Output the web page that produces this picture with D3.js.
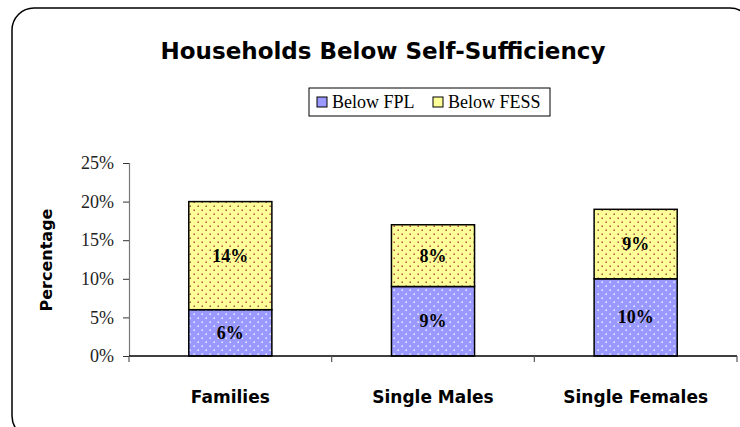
<!DOCTYPE html>
<html>
<head>
<meta charset="utf-8">
<script src="https://cdn.jsdelivr.net/npm/d3@7"></script>
<style>
  body { margin: 0; background: #fff; }
</style>
</head>
<body>
<div id="vis"></div>
<script>
// chart data
const categories = ["Families", "Single Males", "Single Females"];
const belowFPL = [6, 9, 10];
const belowFESS = [14, 8, 9];
const seriesNames = ["Below FPL", "Below FESS"];
const yTicks = [0, 5, 10, 15, 20, 25];

const svg = d3.select("#vis")
    .append("svg")
    .attr("width", 740)
    .attr("height", 427);

const comic = "'DejaVu Sans', sans-serif";
const serif = "'Liberation Serif', serif";

// dotted patterns for bar fills
const defs = svg.append("defs");
function dots(id, bg, dot) {
    const p = defs.append("pattern")
        .attr("id", id)
        .attr("patternUnits", "userSpaceOnUse")
        .attr("width", 8)
        .attr("height", 8);
    p.append("rect").attr("width", 8).attr("height", 8).attr("fill", bg);
    p.append("rect").attr("x", 1.5).attr("y", 1.5).attr("width", 1.4).attr("height", 1.4).attr("fill", dot);
    p.append("rect").attr("x", 5.5).attr("y", 5.5).attr("width", 1.4).attr("height", 1.4).attr("fill", dot);
}
dots("fplDots", "#9999ff", "#ffffff");
dots("fessDots", "#ffff99", "#993333");

// outer frame
svg.append("rect")
    .attr("x", 12)
    .attr("y", 8)
    .attr("width", 740)
    .attr("height", 430)
    .attr("rx", 22)
    .attr("ry", 22)
    .attr("fill", "none")
    .attr("stroke", "#000")
    .attr("stroke-width", 1.5);

svg.append("text")
    .attr("x", 383)
    .attr("y", 59)
    .attr("text-anchor", "middle")
    .style("font-family", comic)
    .style("font-weight", "bold")
    .style("font-size", "23px")
    .text("Households Below Self-Sufficiency");

const margin = { left: 129, right: 737, top: 163, bottom: 356 };

const x = d3.scaleBand()
    .domain(categories)
    .range([margin.left, margin.right])
    .paddingInner(0.59)
    .paddingOuter(0.295);

const y = d3.scaleLinear()
    .domain([0, 25])
    .range([margin.bottom, margin.top]);

const stackData = categories.map((c, i) => ({ cat: c, fpl: belowFPL[i], fess: belowFESS[i] }));
const stacked = d3.stack().keys(["fpl", "fess"])(stackData);
const fills = ["url(#fplDots)", "url(#fessDots)"];

// y axis
const yAxis = svg.append("g")
    .attr("transform", `translate(${margin.left},0)`)
    .call(d3.axisLeft(y).tickValues(yTicks).tickSize(6).tickPadding(9).tickFormat(d => d + "%"));
yAxis.select(".domain").attr("stroke", "#777").attr("stroke-width", 1.2);
yAxis.selectAll(".tick line").attr("stroke", "#333");
yAxis.selectAll("text")
    .style("font-family", serif)
    .style("font-size", "18px")
    .attr("fill", "#222");

svg.append("text")
    .attr("transform", "translate(52,260) rotate(-90)")
    .attr("text-anchor", "middle")
    .style("font-family", comic)
    .style("font-weight", "bold")
    .style("font-size", "16px")
    .text("Percentage");

// bars
svg.append("g").selectAll("g")
    .data(stacked)
    .join("g")
    .attr("fill", (d, i) => fills[i])
    .selectAll("rect")
    .data(d => d)
    .join("rect")
    .attr("x", d => x(d.data.cat))
    .attr("y", d => y(d[1]))
    .attr("width", x.bandwidth())
    .attr("height", d => y(d[0]) - y(d[1]))
    .attr("stroke", "#000")
    .attr("stroke-width", 1.5);

svg.append("g").selectAll("g")
    .data(stacked)
    .join("g")
    .selectAll("text")
    .data(d => d)
    .join("text")
    .attr("x", d => x(d.data.cat) + x.bandwidth() / 2)
    .attr("y", d => y((d[0] + d[1]) / 2) + 6)
    .attr("text-anchor", "middle")
    .style("font-family", serif)
    .style("font-weight", "bold")
    .style("font-size", "18px")
    .text(d => (d[1] - d[0]) + "%");

// x axis with ticks between categories
const step = x.step();
const bounds = d3.range(categories.length + 1).map(i => margin.left + i * step);
const xg = svg.append("g");
xg.append("line")
    .attr("x1", margin.left)
    .attr("x2", margin.right)
    .attr("y1", margin.bottom)
    .attr("y2", margin.bottom)
    .attr("stroke", "#000")
    .attr("stroke-width", 1.5);
xg.selectAll(".tk")
    .data(bounds)
    .join("line")
    .attr("x1", d => d)
    .attr("x2", d => d)
    .attr("y1", margin.bottom)
    .attr("y2", margin.bottom + 6)
    .attr("stroke", "#555")
    .attr("stroke-width", 1.2);
xg.selectAll("text")
    .data(categories)
    .join("text")
    .attr("x", d => x(d) + x.bandwidth() / 2)
    .attr("y", 403)
    .attr("text-anchor", "middle")
    .style("font-family", comic)
    .style("font-weight", "bold")
    .style("font-size", "17px")
    .text(d => d);

// legend
const lg = svg.append("g").attr("transform", "translate(309,88)");
lg.append("rect")
    .attr("width", 241)
    .attr("height", 28)
    .attr("fill", "#fff")
    .attr("stroke", "#000")
    .attr("stroke-width", 1);
const legendX = [8, 124];
seriesNames.forEach((name, i) => {
    lg.append("rect")
        .attr("x", legendX[i])
        .attr("y", 9)
        .attr("width", 10)
        .attr("height", 10)
        .attr("fill", i === 0 ? "#9999ff" : "#ffff99")
        .attr("stroke", "#000")
        .attr("stroke-width", 1);
    lg.append("text")
        .attr("x", legendX[i] + 15)
        .attr("y", 20)
        .style("font-family", serif)
        .style("font-size", "18px")
        .text(name);
});
</script>
</body>
</html>
